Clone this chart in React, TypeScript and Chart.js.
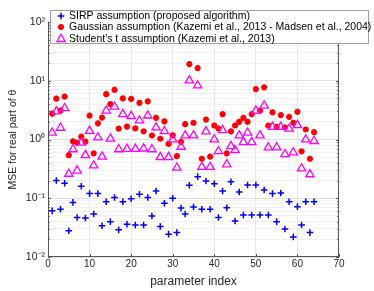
import React, { useEffect, useRef } from 'react';
import { Chart, registerables } from 'chart.js';

Chart.register(...registerables);

// ---- data ----
const paramIndex = [
  1, 2, 3, 4, 5, 6, 7, 8, 9, 10, 11, 12, 13, 14, 15, 16, 17, 18, 19, 20,
  21, 22, 23, 24, 25, 26, 27, 28, 29, 30, 31, 32, 33, 34, 35, 36, 37, 38, 39, 40,
  41, 42, 43, 44, 45, 46, 47, 48, 49, 50, 51, 52, 53, 54, 55, 56, 57, 58, 59, 60,
  61, 62, 63, 64,
];

const sirpMSE = [
  0.061, 0.2, 0.065, 0.18, 0.028, 0.085, 0.047, 0.16, 0.046, 0.12,
  0.054, 0.12, 0.034, 0.087, 0.04, 0.103, 0.029, 0.087, 0.036, 0.098,
  0.035, 0.117, 0.035, 0.103, 0.05, 0.133, 0.033, 0.082, 0.0245, 0.1,
  0.026, 0.068, 0.054, 0.166, 0.071, 0.233, 0.065, 0.197, 0.065, 0.177,
  0.047, 0.133, 0.069, 0.19, 0.041, 0.128, 0.052, 0.168, 0.052, 0.168,
  0.052, 0.138, 0.052, 0.12, 0.04, 0.123, 0.03, 0.087, 0.022, 0.072,
  0.035, 0.087, 0.026, 0.087,
];

const gaussianMSE = [
  2.76, 4.95, 3.1, 5.35, 0.54, 0.93, 0.88, 1.12, 0.92, 2.55,
  0.58, 1.88, 2.36, 5.9, 4.0, 7.0, 1.53, 5.0, 1.66, 4.9,
  1.55, 4.2, 1.38, 4.45, 1.17, 2.33, 1.03, 2.04, 0.84, 1.18,
  0.52, 0.91, 1.82, 19.2, 1.92, 16.4, 0.47, 2.18, 0.51, 1.73,
  1.53, 2.7, 0.58, 1.37, 1.73, 2.0, 2.33, 2.0, 2.7, 7.2,
  3.1, 7.7, 1.73, 2.9, 1.64, 2.6, 1.6, 2.43, 1.92, 2.95,
  0.63, 1.48, 0.47, 1.33,
];

const studentMSE = [
  1.3, 3.0, 1.58, 3.4, 0.26, 0.68, 0.295, 0.88, 0.54, 1.4,
  0.36, 1.08, 0.51, 3.1, 1.03, 3.6, 0.68, 2.7, 0.69, 2.5,
  0.69, 2.1, 0.7, 2.55, 0.68, 1.6, 0.5, 1.38, 0.5, 1.0,
  0.33, 0.75, 1.17, 10.1, 1.17, 8.3, 0.34, 1.37, 0.34, 1.0,
  0.63, 1.44, 0.377, 0.77, 0.66, 1.17, 0.9, 1.3, 0.9, 3.1,
  1.17, 3.77, 0.73, 1.64, 0.73, 1.64, 0.56, 1.52, 0.6, 1.75,
  0.32, 1.0, 0.255, 0.94,
];

const seriesLabels = [
  'SIRP assumption (proposed algorithm)',
  'Gaussian assumption (Kazemi et al., 2013 - Madsen et al., 2004)',
  "Student's t assumption (Kazemi et al., 2013)",
];

const xTickValues = [0, 10, 20, 30, 40, 50, 60, 70];
const yDecades = [0.01, 0.1, 1, 10, 100];
const yDecadeLabels = ['10\u207B\u00B2', '10\u207B\u00B9', '10\u2070', '10\u00B9', '10\u00B2'];
const yMinorMultipliers = [2, 3, 4, 5, 6, 7, 8, 9];

const BLUE = '#0000ff';
const RED = '#ff0000';
const MAGENTA = '#ff00ff';
const FONT = '"Liberation Sans", Arial, Helvetica, sans-serif';

const STAR_R = 3.1;
const STAR_W = 1.9;

function buildYTicks(): number[] {
  const out: number[] = [];
  for (let i = 0; i < yDecades.length; i++) {
    out.push(yDecades[i]);
    if (i < yDecades.length - 1) {
      for (const m of yMinorMultipliers) out.push(+(m * yDecades[i]).toPrecision(6));
    }
  }
  return out;
}

function isDecade(v: number): boolean {
  const l = Math.log10(v);
  return Math.abs(l - Math.round(l)) < 1e-6;
}

function drawMarker(ctx: CanvasRenderingContext2D, kind: string, x: number, y: number) {
  ctx.save();
  ctx.beginPath();
  if (kind === 'cross') {
    ctx.strokeStyle = BLUE;
    ctx.lineWidth = 1.5;
    const r = 3.3;
    ctx.moveTo(x - r, y); ctx.lineTo(x + r, y);
    ctx.moveTo(x, y - r); ctx.lineTo(x, y + r);
    ctx.stroke();
  } else if (kind === 'star') {
    ctx.strokeStyle = RED;
    ctx.lineWidth = STAR_W;
    const r = STAR_R;
    const d = r * Math.SQRT1_2;
    ctx.moveTo(x - r, y); ctx.lineTo(x + r, y);
    ctx.moveTo(x, y - r); ctx.lineTo(x, y + r);
    ctx.moveTo(x - d, y - d); ctx.lineTo(x + d, y + d);
    ctx.moveTo(x - d, y + d); ctx.lineTo(x + d, y - d);
    ctx.stroke();
  } else {
    ctx.strokeStyle = MAGENTA;
    ctx.lineWidth = 1.3;
    const r = 4.8;
    ctx.moveTo(x, y - r);
    ctx.lineTo(x + r * 0.866, y + r / 2);
    ctx.lineTo(x - r * 0.866, y + r / 2);
    ctx.closePath();
    ctx.stroke();
  }
  ctx.restore();
}

const framePlugin = {
  id: 'matlabFrame',
  afterDatasetsDraw(chart: any) {
    const { ctx, chartArea: a, scales } = chart;
    const x = scales.x;
    const y = scales.y;
    ctx.save();
    ctx.strokeStyle = '#555555';
    ctx.lineWidth = 1;
    ctx.beginPath();
    for (const v of xTickValues) {
      const px = Math.round(x.getPixelForValue(v)) + 0.5;
      ctx.moveTo(px, a.bottom); ctx.lineTo(px, a.bottom - 3);
      ctx.moveTo(px, a.top); ctx.lineTo(px, a.top + 3);
    }
    for (const v of buildYTicks()) {
      const py = Math.round(y.getPixelForValue(v)) + 0.5;
      const len = isDecade(v) ? 3 : 1.8;
      ctx.moveTo(a.left, py); ctx.lineTo(a.left + len, py);
      ctx.moveTo(a.right, py); ctx.lineTo(a.right - len, py);
    }
    ctx.stroke();
    ctx.strokeRect(a.left + 0.5, a.top + 0.5, a.right - a.left - 1, a.bottom - a.top - 1);
    ctx.restore();
  },
  afterDraw(chart: any) {
    const { ctx } = chart;
    ctx.save();
    const lx = 50.5, ly = 10.5, lw = 318, lh = 33;
    ctx.fillStyle = '#ffffff';
    ctx.fillRect(lx, ly, lw, lh);
    ctx.strokeStyle = '#a0a0a0';
    ctx.lineWidth = 1;
    ctx.strokeRect(lx, ly, lw, lh);
    const kinds = ['cross', 'star', 'triangle'];
    const rows = [16, 27, 38.3];
    ctx.font = `10.5px ${FONT}`;
    ctx.fillStyle = '#000000';
    ctx.textBaseline = 'middle';
    ctx.textAlign = 'left';
    for (let i = 0; i < 3; i++) {
      drawMarker(ctx, kinds[i], 61, rows[i] + (kinds[i] === 'triangle' ? 0.8 : 0));
      ctx.fillText(seriesLabels[i], 69, rows[i] + 0.5);
    }
    ctx.restore();
  },
};

function toPoints(vals: number[]) {
  return paramIndex.map((xv, i) => ({ x: xv, y: vals[i] }));
}

export default function App() {
  const canvasRef = useRef<HTMLCanvasElement | null>(null);

  useEffect(() => {
    const canvas = canvasRef.current;
    if (!canvas) return;
    const yTicks = buildYTicks();
    const chart = new Chart(canvas, {
      type: 'scatter',
      data: {
        datasets: [
          {
            label: seriesLabels[2],
            data: toPoints(studentMSE),
            pointStyle: 'triangle',
            pointRadius: 4.8,
            borderColor: MAGENTA,
            backgroundColor: 'rgba(0,0,0,0)',
            borderWidth: 1.3,
            order: 1,
          },
          {
            label: seriesLabels[1],
            data: toPoints(gaussianMSE),
            pointStyle: 'star',
            pointRadius: STAR_R,
            borderColor: RED,
            backgroundColor: RED,
            borderWidth: STAR_W,
            order: 2,
          },
          {
            label: seriesLabels[0],
            data: toPoints(sirpMSE),
            pointStyle: 'cross',
            pointRadius: 3.3,
            borderColor: BLUE,
            backgroundColor: BLUE,
            borderWidth: 1.5,
            order: 3,
          },
        ],
      },
      options: {
        responsive: false,
        maintainAspectRatio: false,
        animation: false,
        devicePixelRatio: 1,
        layout: { padding: { top: 22, right: 35, left: 0, bottom: 0 } },
        plugins: {
          legend: { display: false },
          tooltip: { enabled: false },
        },
        scales: {
          x: {
            type: 'linear',
            min: 0,
            max: 70,
            afterBuildTicks: (s: any) => {
              s.ticks = xTickValues.map((v) => ({ value: v }));
            },
            ticks: {
              color: '#262626',
              font: { family: FONT, size: 10 },
              padding: 1,
              maxRotation: 0,
              autoSkip: false,
            },
            grid: {
              drawTicks: false,
              color: (c: any) =>
                c.tick && (c.tick.value === 0 || c.tick.value === 70) ? 'rgba(0,0,0,0)' : '#e6e6e6',
            },
            border: { display: false },
            title: {
              display: true,
              text: 'parameter index',
              color: '#262626',
              font: { family: FONT, size: 12 },
              padding: { top: 0, bottom: 2 },
            },
            afterFit: (s: any) => {
              s.height = 34;
            },
          },
          y: {
            type: 'logarithmic',
            min: 0.01,
            max: 100,
            afterBuildTicks: (s: any) => {
              s.ticks = yTicks.map((v) => ({ value: v }));
            },
            ticks: {
              color: '#262626',
              font: { family: FONT, size: 10.5 },
              padding: 3,
              autoSkip: false,
              callback: (v: any) => {
                const val = Number(v);
                for (let i = 0; i < yDecades.length; i++) {
                  if (Math.abs(val - yDecades[i]) / yDecades[i] < 1e-6) return yDecadeLabels[i];
                }
                return '';
              },
            },
            grid: {
              drawTicks: false,
              color: (c: any) => {
                if (!c.tick) return '#eeeeee';
                return isDecade(c.tick.value) ? '#e0e0e0' : '#f1f1f1';
              },
            },
            border: { display: false },
            title: {
              display: true,
              text: 'MSE for real part of \u03B8',
              color: '#262626',
              font: { family: FONT, size: 10.5 },
              padding: { top: 7, bottom: 7 },
            },
            afterFit: (s: any) => {
              s.width = 48;
            },
          },
        },
      },
      plugins: [framePlugin],
    } as any);
    return () => chart.destroy();
  }, []);

  return (
    <div style={{ position: 'absolute', left: 0, top: 0, width: 374, height: 291, background: '#ffffff' }}>
      <canvas ref={canvasRef} width={374} height={291} style={{ width: 374, height: 291, display: 'block' }} />
    </div>
  );
}
